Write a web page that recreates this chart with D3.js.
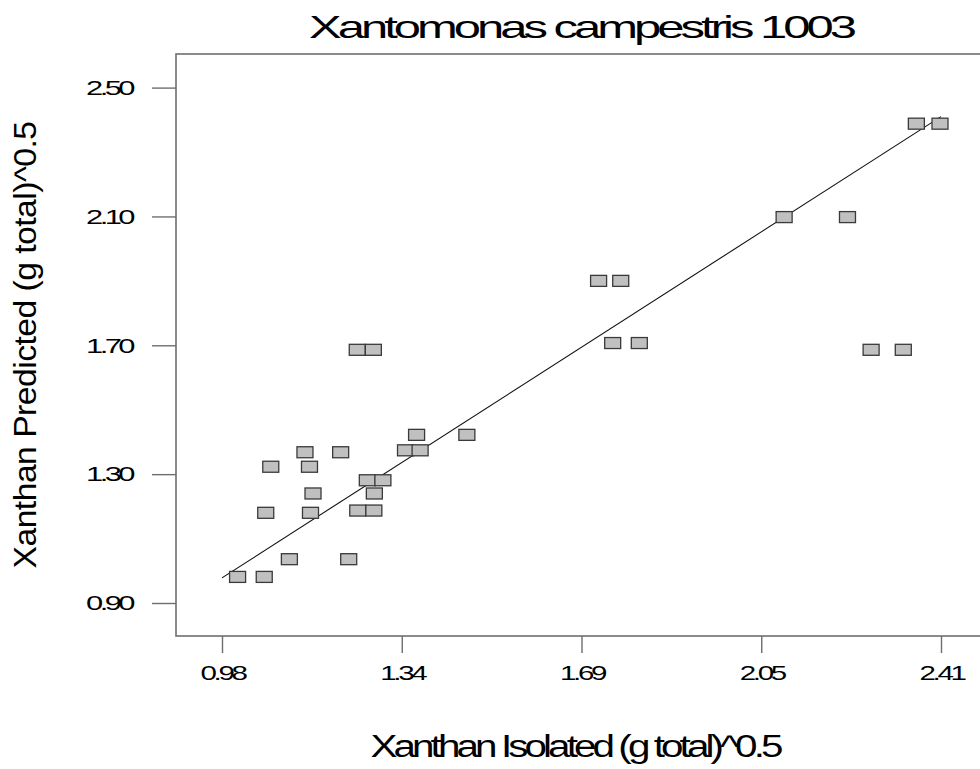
<!DOCTYPE html>
<html>
<head>
<meta charset="utf-8">
<script src="https://cdn.jsdelivr.net/npm/d3@7/dist/d3.min.js"></script>
<style>
  html, body { margin: 0; padding: 0; background: #fff; }
  svg { display: block; }
  text { font-family: "Liberation Sans", Arial, sans-serif; fill: #000; }
</style>
</head>
<body>
<svg id="chart" width="980" height="769"></svg>
<script>
// Observed vs. predicted xanthan yield (square-root transformed)
const isolated = [
  1.011, 1.064, 1.114, 1.232, 1.067, 1.156, 1.250, 1.282,
  1.161, 1.283, 1.269, 1.300, 1.077, 1.154, 1.145, 1.216,
  1.345, 1.374, 1.367, 1.467, 1.249, 1.281, 2.361, 2.408,
  2.098, 2.224, 1.729, 1.773, 1.757, 1.810, 2.271, 2.335
];
const predicted = [
  0.981, 0.981, 1.036, 1.036, 1.180, 1.180, 1.187, 1.187,
  1.240, 1.240, 1.281, 1.281, 1.323, 1.323, 1.368, 1.368,
  1.374, 1.374, 1.422, 1.422, 1.686, 1.686, 2.388, 2.388,
  2.098, 2.098, 1.900, 1.900, 1.707, 1.707, 1.686, 1.686
];

// Fitted line end points
const fitX = [0.98, 2.41];
const fitY = [0.978, 2.41];

// Axis ticks
const xTickValues = [0.98, 1.3375, 1.695, 2.0525, 2.41];
const xTickLabels = ["0.98", "1.34", "1.69", "2.05", "2.41"];
const yTickValues = [0.90, 1.30, 1.70, 2.10, 2.50];
const yTickLabels = ["0.90", "1.30", "1.70", "2.10", "2.50"];

const titleText = "Xantomonas campestris 1003";
const xTitle = "Xanthan Isolated (g total)^0.5";
const yTitle = "Xanthan Predicted (g total)^0.5";

const svg = d3.select("#chart");

const frame = { left: 176, top: 54, bottom: 636, right: 995 };

const x = d3.scaleLinear().domain([0.98, 2.41]).range([222, 941]);
const y = d3.scaleLinear().domain([0.90, 2.50]).range([603, 87.6]);

const axisColor = "#6e6e6e";

// Plot frame (right side runs past the canvas edge)
svg.append("rect")
  .attr("x", frame.left).attr("y", frame.top)
  .attr("width", frame.right - frame.left)
  .attr("height", frame.bottom - frame.top)
  .attr("fill", "none")
  .attr("stroke", axisColor)
  .attr("stroke-width", 1.6);

// Bottom axis
const gx = svg.append("g")
  .attr("transform", `translate(0,${frame.bottom})`)
  .call(d3.axisBottom(x)
    .tickValues(xTickValues)
    .tickFormat((d, i) => xTickLabels[i])
    .tickSize(17)
    .tickPadding(12));
gx.select(".domain").remove();
gx.selectAll(".tick line").attr("stroke", axisColor).attr("stroke-width", 1.4);
gx.selectAll(".tick text")
  .attr("font-size", 21)
  .attr("letter-spacing", -2.4)
  .attr("textLength", 44)
  .attr("lengthAdjust", "spacingAndGlyphs");

// Left axis
const gy = svg.append("g")
  .attr("transform", `translate(${frame.left},0)`)
  .call(d3.axisLeft(y)
    .tickValues(yTickValues)
    .tickFormat((d, i) => yTickLabels[i])
    .tickSize(24)
    .tickPadding(20));
gy.select(".domain").remove();
gy.selectAll(".tick line").attr("stroke", axisColor).attr("stroke-width", 1.4);
gy.selectAll(".tick text")
  .attr("font-size", 21)
  .attr("letter-spacing", -2.4)
  .attr("textLength", 46)
  .attr("lengthAdjust", "spacingAndGlyphs");

// Fitted line
svg.append("line")
  .attr("x1", x(fitX[0])).attr("y1", y(fitY[0]))
  .attr("x2", x(fitX[1])).attr("y2", y(fitY[1]))
  .attr("stroke", "#111")
  .attr("stroke-width", 1.1);

// Square markers
const mw = 16, mh = 11;
svg.append("g").selectAll("rect")
  .data(isolated.map((v, i) => [v, predicted[i]]))
  .join("rect")
  .attr("x", d => x(d[0]) - mw / 2)
  .attr("y", d => y(d[1]) - mh / 2)
  .attr("width", mw).attr("height", mh)
  .attr("fill", "#c0c0c0")
  .attr("stroke", "#3a3a3a")
  .attr("stroke-width", 1.3);

// Title
svg.append("text")
  .attr("x", 581).attr("y", 38)
  .attr("text-anchor", "middle")
  .attr("font-size", 32)
  .attr("letter-spacing", -2.6)
  .attr("textLength", 544)
  .attr("lengthAdjust", "spacingAndGlyphs")
  .text(titleText);

// X axis title
svg.append("text")
  .attr("x", 575).attr("y", 757)
  .attr("text-anchor", "middle")
  .attr("font-size", 31)
  .attr("letter-spacing", -3)
  .attr("textLength", 409)
  .attr("lengthAdjust", "spacingAndGlyphs")
  .text(xTitle);

// Y axis title
svg.append("text")
  .attr("transform", "translate(36,345) rotate(-90)")
  .attr("text-anchor", "middle")
  .attr("font-size", 31)
  .attr("letter-spacing", -0.5)
  .attr("textLength", 447)
  .attr("lengthAdjust", "spacingAndGlyphs")
  .text(yTitle);
</script>
</body>
</html>
